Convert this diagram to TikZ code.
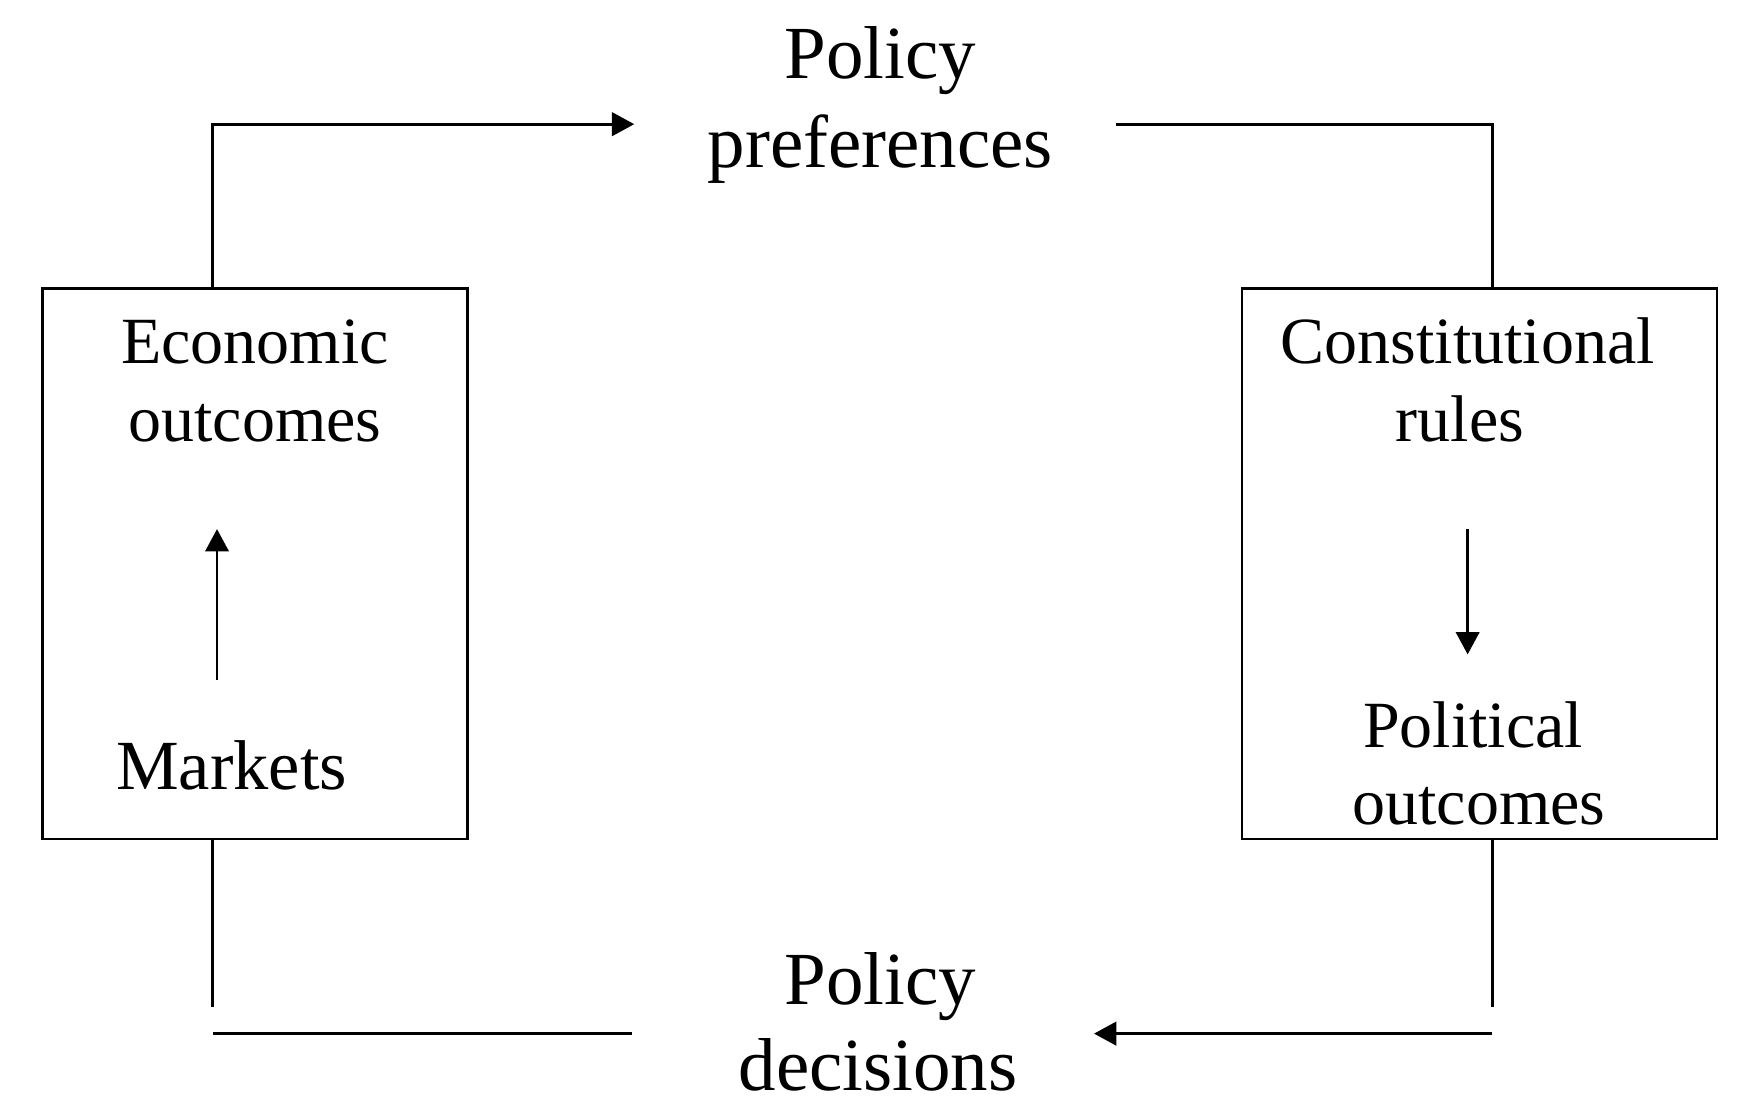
\documentclass[tikz,border=0pt]{standalone}
\usepackage{fontspec}
\setmainfont{Liberation Serif}
\usetikzlibrary{arrows.meta}
\begin{document}
\begin{tikzpicture}[x=1pt,y=1pt,
  lbl/.style={anchor=base,inner sep=0pt},
  big/.style={lbl,font=\fontsize{67}{80}\selectfont},
  mid/.style={lbl,font=\fontsize{59}{70}\selectfont},
  boxx/.style={draw,line width=2pt,inner sep=0pt},
  conn/.style={line width=2.6pt},
  tip/.style={-{Triangle[length=20pt,width=21pt]}}]
\useasboundingbox (0,0) rectangle (1568,-991);
% boxes
\node[boxx,minimum width=380pt,minimum height=492pt] (econ) at (228,-504) {};
\node[boxx,minimum width=425pt,minimum height=492pt] (const) at (1322.5,-504) {};
% texts
\node[big] (pp1) at (787,-70) {Policy};
\node[big] (pp2) at (787,-150) {preferences};
\node[big] (pd1) at (787,-898) {Policy};
\node[big] (pd2) at (785,-975) {decisions};
\node[mid] (eo1) at (228,-325) {Economic};
\node[mid] (eo2) at (228,-395) {outcomes};
\node[lbl,font=\fontsize{63}{70}\selectfont] (mk) at (207,-706) {Markets};
\node[mid] (cr1) at (1312,-325) {Constitutional};
\node[mid] (cr2) at (1305,-395) {rules};
\node[mid] (po1) at (1317,-668) {Political};
\node[mid] (po2) at (1322,-737) {outcomes};
% free ends
\coordinate (tl) at (190,-111);
\coordinate (tlend) at (567,-111);
\coordinate (trstart) at (998,-111);
\coordinate (tr) at (1334,-111);
\coordinate (bl) at (190,-900);
\coordinate (blh1) at (190,-924);
\coordinate (blh2) at (565,-924);
\coordinate (br) at (1334,-900);
\coordinate (brh1) at (1334,-924);
\coordinate (brh2) at (978,-924);
\coordinate (ma) at (194,-608);
\coordinate (mb) at (194,-473);
\coordinate (ca) at (1312,-473);
\coordinate (cb) at (1312,-585);
% connectors
\draw[conn,tip] (econ.north -| tl) -- (tl) -- (tlend);
\draw[conn] (trstart) -- (tr) -- (const.north -| tr);
\draw[conn] (econ.south -| bl) -- (bl);
\draw[conn] (blh1) -- (blh2);
\draw[conn] (const.south -| br) -- (br);
\draw[conn,tip] (brh1) -- (brh2);
\draw[line width=2.2pt,tip] (ma) -- (mb);
\draw[line width=2.2pt,tip] (ca) -- (cb);
\end{tikzpicture}
\end{document}
